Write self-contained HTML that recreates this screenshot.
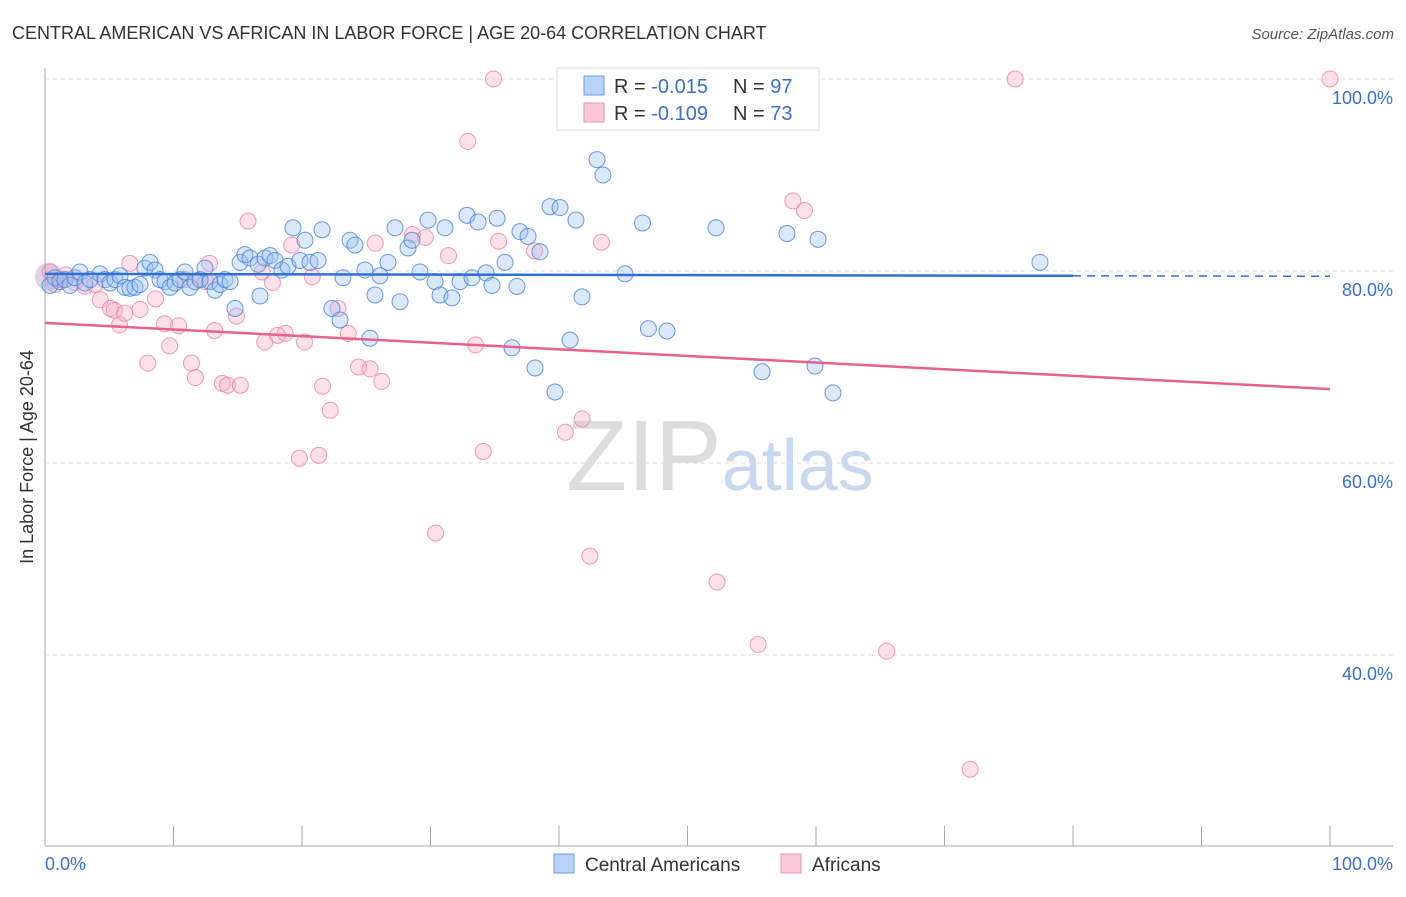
<!DOCTYPE html>
<html><head><meta charset="utf-8"><style>
body{margin:0;background:#fff;font-family:"Liberation Sans",sans-serif;}
svg text{font-family:"Liberation Sans",sans-serif;}
</style></head><body>
<svg id="chart" width="1406" height="892" xmlns="http://www.w3.org/2000/svg">
<text x="12" y="39" font-size="18" fill="#333">CENTRAL AMERICAN VS AFRICAN IN LABOR FORCE | AGE 20-64 CORRELATION CHART</text>
<text x="1394" y="39" font-size="15" fill="#555" text-anchor="end" font-style="italic">Source: ZipAtlas.com</text>
<text x="720" y="490" font-size="100" text-anchor="middle" fill="#ddd" font-family="Liberation Serif">ZIP<tspan fill="#c8d8ee" font-family="Liberation Sans" font-size="72">atlas</tspan></text>
<text transform="translate(33,457) rotate(-90)" font-size="18" fill="#333" text-anchor="middle">In Labor Force | Age 20-64</text>
<g id="grid"></g><g id="pts"></g><g id="trend"></g>
<g>
<rect x="557" y="68" width="262" height="62" fill="#fff" stroke="#ddd"/>
<rect x="584" y="76" width="20" height="19" fill="#b8d3f5" stroke="#6d9ee6"/>
<rect x="584" y="103" width="20" height="19" fill="#fcc8d8" stroke="#ec92b0"/>
<text x="614" y="93" font-size="20" fill="#333">R = <tspan fill="#3a6fd0">-0.015</tspan></text>
<text x="733" y="93" font-size="20" fill="#333">N = <tspan fill="#3a6fd0">97</tspan></text>
<text x="614" y="120" font-size="20" fill="#333">R = <tspan fill="#3a6fd0">-0.109</tspan></text>
<text x="733" y="120" font-size="20" fill="#333">N = <tspan fill="#3a6fd0">73</tspan></text>
</g>
<g>
<rect x="554" y="854" width="20" height="19" fill="#b8d3f5" stroke="#6d9ee6"/>
<text x="585" y="871" font-size="19" fill="#333">Central Americans</text>
<rect x="781" y="854" width="20" height="19" fill="#fcc8d8" stroke="#ec92b0"/>
<text x="812" y="871" font-size="19" fill="#333">Africans</text>
</g>
</svg>
<script>
const yTicks=[100,80,60,40];
const yTickLabels=["100.0%","80.0%","60.0%","40.0%"];
const blueX=[0.39,0.78,1.17,1.56,1.95,2.33,2.72,3.11,3.5,4.28,4.67,5.06,5.45,5.84,6.23,6.61,7.0,7.39,7.78,8.17,8.56,8.95,9.34,9.73,10.12,10.51,10.89,11.28,11.67,12.06,12.45,12.84,13.23,13.62,14.01,14.4,14.79,15.18,15.56,15.95,16.58,16.73,17.12,17.51,17.9,18.44,18.91,19.3,19.84,20.23,20.62,21.25,21.56,22.33,22.96,23.19,23.74,24.12,24.9,25.29,25.68,26.07,26.69,27.24,27.63,28.25,28.56,29.18,29.81,30.35,30.74,31.13,31.67,32.3,32.84,33.23,33.7,34.32,34.79,35.18,35.8,36.34,36.73,36.96,37.59,38.13,38.52,39.3,39.69,40.08,40.86,41.32,41.79,42.96,43.42,45.14,46.5,46.96,48.4,52.22,55.8,57.74,59.92,60.16,61.32,77.43];
const blueY=[78.5,79.3,78.9,79.1,78.5,79.3,79.9,78.75,79.1,79.7,79.1,78.75,79.1,79.5,78.3,78.2,78.3,78.6,80.3,80.9,80.1,79.1,78.9,78.3,78.75,79.1,79.9,78.3,78.9,79.1,80.3,78.9,78.0,78.6,79.1,78.9,76.1,80.9,81.7,81.35,80.7,77.4,81.35,81.6,81.1,80.1,80.5,84.5,81.1,83.2,80.9,81.1,84.3,76.1,74.9,79.3,83.2,82.7,80.1,73.0,77.5,79.5,80.9,84.5,76.8,82.4,83.2,79.9,85.3,78.9,77.5,84.5,77.2,78.9,85.8,79.3,85.1,79.8,78.5,85.5,80.9,72.0,78.4,84.1,83.6,69.9,82.0,86.7,67.4,86.6,72.8,85.3,77.3,91.6,90.0,79.7,85.0,74.0,73.75,84.5,69.5,83.9,70.1,83.3,67.3,80.9];
const pinkX=[34.9,75.5,100,32.9,15.8,58.2,59.1,0.4,0.8,1.2,1.6,2.3,3.1,3.9,4.3,5.1,5.4,5.8,6.2,6.6,7.4,8.0,8.6,9.3,9.7,10.4,10.9,11.4,11.7,12.1,12.5,12.8,13.2,13.8,14.2,14.9,15.2,16.9,17.1,17.7,18.1,18.7,19.2,19.8,20.2,20.8,21.3,21.6,22.2,22.8,23.6,24.4,25.3,25.7,26.2,28.6,29.6,30.4,31.4,33.5,34.1,35.3,38.1,40.5,41.8,42.4,43.3,52.3,55.5,65.5,72.0];
const pinkY=[100,100,100,93.5,85.2,87.3,86.3,79.9,78.6,79.1,79.6,78.8,78.4,78.6,77.0,76.1,75.9,74.4,75.6,80.8,76.0,70.4,77.1,74.5,72.2,74.3,79.1,70.4,68.9,79.1,78.9,80.8,73.8,68.3,68.1,75.3,68.1,79.9,72.6,78.8,73.3,73.5,82.7,60.5,72.6,79.4,60.8,68.0,65.5,76.1,73.5,70.0,69.8,82.9,68.5,83.8,83.5,52.7,81.6,72.3,61.2,83.1,82.1,63.2,64.6,50.3,83.0,47.6,41.1,40.4,28.1];
const X=v=>45+v*12.85, Y=v=>79+(100-v)*9.6;
const NS="http://www.w3.org/2000/svg";
function mk(tag,attrs,parent){const e=document.createElementNS(NS,tag);for(const k in attrs)e.setAttribute(k,attrs[k]);parent.appendChild(e);return e;}
const grid=document.getElementById('grid');
yTicks.forEach((t,i)=>{
 const l=mk('line',{x1:45,x2:1393,y1:Y(t),y2:Y(t),stroke:'#ddd','stroke-dasharray':'4,4'},grid);
 
 
 const tx=mk('text',{x:1393,y:Y(t)+25,'font-size':18,fill:'#3a6fd0','text-anchor':'end'},grid);
 tx.textContent=yTickLabels[i];
 
 
});
const ax=mk('line',{x1:45,x2:45,y1:68,y2:846,stroke:'#aaa'},grid);


const bx=mk('line',{x1:45,x2:1393,y1:846,y2:846,stroke:'#aaa'},grid);


for(let i=1;i<=10;i++){const t=mk('line',{x1:45+i*128.5,x2:45+i*128.5,y1:826,y2:846,stroke:'#aaa'},grid);
 
 }
const xl0=mk('text',{x:45,y:870,'font-size':18,fill:'#3a6fd0'},grid);xl0.textContent='0.0%';


const xl1=mk('text',{x:1393,y:870,'font-size':18,fill:'#3a6fd0','text-anchor':'end'},grid);xl1.textContent='100.0%';


const pts=document.getElementById('pts');
const big=mk('circle',{cx:X(0.3),cy:Y(79.4),r:14,fill:'rgba(160,130,190,0.35)',stroke:'none'},pts);


pinkX.forEach((v,i)=>{const c=mk('circle',{cx:X(v),cy:Y(pinkY[i]),r:8,fill:'rgba(248,170,195,0.35)',stroke:'rgba(236,130,165,0.8)','stroke-width':1},pts);
 
 });
blueX.forEach((v,i)=>{const c=mk('circle',{cx:X(v),cy:Y(blueY[i]),r:8,fill:'rgba(150,190,240,0.35)',stroke:'rgba(70,130,215,0.8)','stroke-width':1},pts);
 
 });
const tr=document.getElementById('trend');
const b1=mk('line',{x1:X(0),y1:Y(79.7),x2:X(80),y2:Y(79.5),stroke:'#2f6fd6','stroke-width':2.5},tr);


const b2=mk('line',{x1:X(80),y1:Y(79.5),x2:X(100),y2:Y(79.45),stroke:'#2f6fd6','stroke-width':1.5,'stroke-dasharray':'8,6'},tr);


const p1=mk('line',{x1:X(0),y1:Y(74.6),x2:X(100),y2:Y(67.7),stroke:'#e8608c','stroke-width':2.5},tr);


</script>
</body></html>
